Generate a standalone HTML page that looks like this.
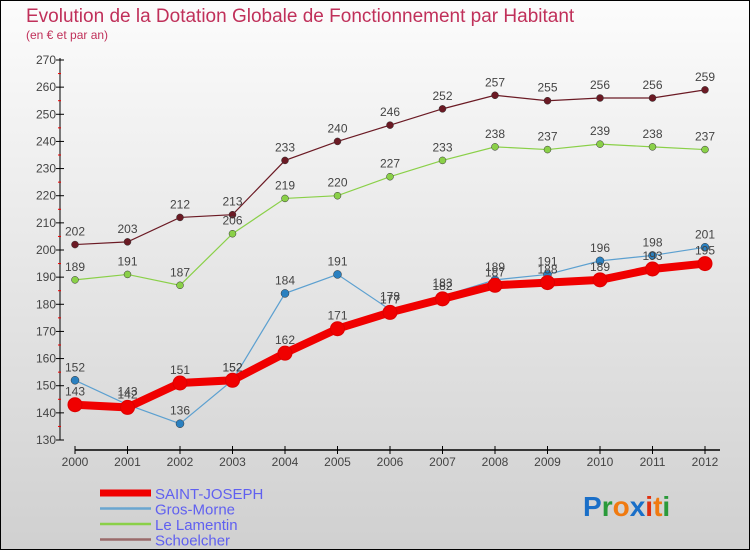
<!DOCTYPE html>
<html><head><meta charset="utf-8"><style>
body{margin:0}
#c{width:750px;height:550px;position:relative;overflow:hidden;font-family:"Liberation Sans",sans-serif}
</style></head><body>
<div id="c">
<svg id="s" width="750" height="550" xmlns="http://www.w3.org/2000/svg">
<defs><linearGradient id="bg" x1="0" y1="0" x2="0" y2="1"><stop offset="0" stop-color="#fcfcfc"/><stop offset="1" stop-color="#d0d0d0"/></linearGradient></defs>
<rect x="0.5" y="0.5" width="749" height="549" fill="url(#bg)" stroke="#000"/>
<text x="26" y="22" font-size="19" fill="#c0305a">Evolution de la Dotation Globale de Fonctionnement par Habitant</text>
<text x="26" y="39" font-size="12" fill="#c0305a">(en € et par an)</text>
<g id="axes"></g><g id="series"></g><g id="legend"></g>
<text x="583" y="516" font-size="28" font-weight="bold"><tspan fill="#1a6fc8">P</tspan><tspan fill="#2a9a3a">r</tspan><tspan fill="#f07a10">o</tspan><tspan fill="#1a6fc8">x</tspan><tspan fill="#e03010">i</tspan><tspan fill="#f07a10">t</tspan><tspan fill="#2a9a3a">i</tspan></text>
</svg></div>
<script>
const years=[2000,2001,2002,2003,2004,2005,2006,2007,2008,2009,2010,2011,2012];
const yTicks=[130,140,150,160,170,180,190,200,210,220,230,240,250,260,270];
const saintJoseph=[143,142,151,152,162,171,177,182,187,188,189,193,195];
const grosMorne=[152,143,136,152,184,191,178,183,189,191,196,198,201];
const leLamentin=[189,191,187,206,219,220,227,233,238,237,239,238,237];
const schoelcher=[202,203,212,213,233,240,246,252,257,255,256,256,259];
const NS="http://www.w3.org/2000/svg";
const xs=i=>75+i*52.5;
const ys=v=>60+(270-v)*380/140;
function mk(t,a,p){const e=document.createElementNS(NS,t);for(const k in a)e.setAttribute(k,a[k]);p.appendChild(e);return e;}
const ax=document.getElementById('axes');
let l=mk('line',{x1:60,y1:58,x2:60,y2:440,stroke:'#000'},ax);


l=mk('line',{x1:75,y1:450,x2:720,y2:450,stroke:'#000','stroke-width':1.5},ax);


yTicks.forEach((v,i)=>{
 mk('line',{x1:56,y1:ys(v),x2:64,y2:ys(v),stroke:'#000'},ax);
 if(i>0)mk('line',{x1:58,y1:ys(v-5),x2:61,y2:ys(v-5),stroke:'#e00'},ax);
 const t=mk('text',{x:56,y:ys(v)+4,'font-size':12,fill:'#444','text-anchor':'end'},ax);
 t.textContent=v;
 
 
});
years.forEach((y,i)=>{
 mk('line',{x1:xs(i),y1:446,x2:xs(i),y2:454,stroke:'#000'},ax);
 const t=mk('text',{x:xs(i),y:466,'font-size':12,fill:'#444','text-anchor':'middle'},ax);
 t.textContent=y;
 
 
});
const series=[
 {name:'Schoelcher',data:schoelcher,c:'#6b1a24',w:1.2,r:3.5,lc:'#9a6b6b'},
 {name:'Le Lamentin',data:leLamentin,c:'#8ad048',w:1.2,r:3.5,lc:'#8ad048'},
 {name:'Gros-Morne',data:grosMorne,c:'#5ca0d0',w:1.2,r:4,fc:'#2a80c0',lc:'#6aa6d0'},
 {name:'SAINT-JOSEPH',data:saintJoseph,c:'#f00000',w:8,r:7,lc:'#f00000'}
];
const sg=document.getElementById('series');
series.forEach(s=>{
 const g=mk('g',{},sg);
 
 
 const p=mk('polyline',{points:s.data.map((v,i)=>xs(i)+','+ys(v)).join(' '),fill:'none',stroke:s.c,'stroke-width':s.w},g);
 
 
 s.data.forEach((v,i)=>{
  const c=mk('circle',{cx:xs(i),cy:ys(v),r:s.r,fill:s.fc||s.c,stroke:s.w>2?'#d00':'#333','stroke-width':s.w>2?1:0.5},g);
  
  
  const t=mk('text',{x:xs(i),y:ys(v)-9,'font-size':12,fill:'#444','text-anchor':'middle'},g);
  t.textContent=v;
  
  
 });
});
const lg=document.getElementById('legend');
[...series].reverse().forEach((s,i)=>{
 const y=493+i*15.5;
 const g=mk('g',{},lg);
 
 
 mk('line',{x1:100,y1:y,x2:151,y2:y,stroke:s.lc,'stroke-width':s.w>2?7:2.5},g);
 const t=mk('text',{x:155,y:y+6,'font-size':15,fill:'#6060f0'},g);
 t.textContent=s.name;
});
</script>
</body></html>
